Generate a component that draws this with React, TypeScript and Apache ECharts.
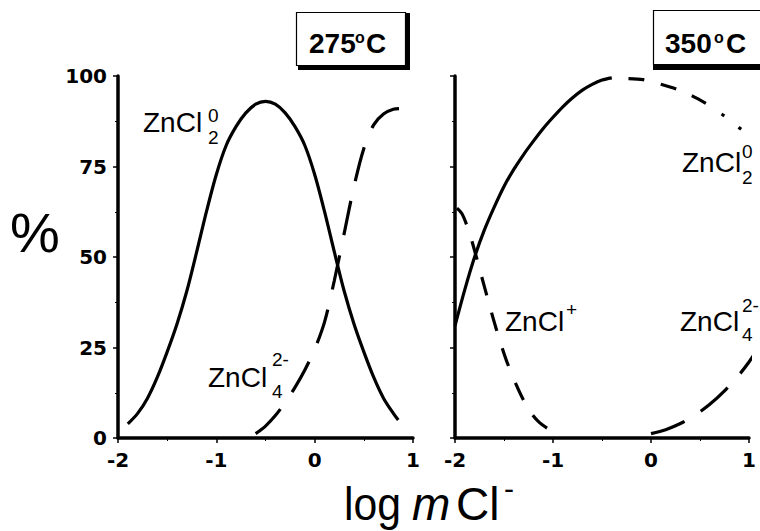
import React, { useEffect, useRef } from "react";
import * as echarts from "echarts";

// ---------- data (log mCl- vs % of Zn) ----------
const xTicks = [-2, -1, 0, 1];
const yTicks = [0, 25, 50, 75, 100];

// 275 °C panel
const t275_ZnCl2_x = [-1.9, -1.8, -1.7, -1.6, -1.5, -1.4, -1.3, -1.2, -1.1, -1.0, -0.9, -0.8, -0.7, -0.6, -0.5, -0.4, -0.3, -0.2, -0.1, 0.0, 0.1, 0.2, 0.3, 0.4, 0.5, 0.6, 0.7, 0.8, 0.85];
const t275_ZnCl2_y = [3.9, 6.8, 11.0, 16.8, 23.8, 31.5, 40.6, 51.4, 62.6, 72.8, 80.8, 86.0, 89.8, 92.2, 93, 92.2, 89.8, 86.0, 80.8, 72.8, 62.6, 51.4, 40.6, 31.5, 23.8, 16.8, 11.0, 6.8, 5.0];
const t275_ZnCl4_x = [-0.6, -0.5, -0.4, -0.3, -0.2, -0.1, 0.0, 0.1, 0.2, 0.3, 0.4, 0.5, 0.6, 0.7, 0.8, 0.88];
const t275_ZnCl4_y = [1.2, 3.3, 6.2, 9.8, 14, 18.8, 24.5, 32, 43.5, 56.5, 69.5, 80, 86.5, 89.5, 90.8, 91];

// 350 °C panel
const t350_ZnCl2_solid_x = [-2.0, -1.9, -1.8, -1.7, -1.6, -1.5, -1.4, -1.3, -1.2, -1.1, -1.0, -0.9, -0.8, -0.7, -0.6, -0.5, -0.4];
const t350_ZnCl2_solid_y = [31, 41, 50, 57.5, 63.8, 69.5, 74.2, 78.3, 82.0, 85.5, 88.6, 91.5, 94.0, 96.1, 97.7, 98.9, 99.5];
const t350_ZnCl2_dash_x = [-0.23, -0.08, 0.09, 0.27, 0.42, 0.57];
const t350_ZnCl2_dash_y = [99.3, 99.0, 97.8, 96.3, 94.5, 92.3];
const t350_ZnCl2_dot_x = [0.72, 0.81, 0.9, 0.95];
const t350_ZnCl2_dot_y = [89.5, 87.8, 85.7, 84.7];
const t350_ZnClp_x = [-1.98, -1.93, -1.88, -1.83, -1.78, -1.73, -1.68, -1.63, -1.58, -1.52, -1.46, -1.38, -1.3, -1.22, -1.14, -1.06];
const t350_ZnClp_y = [63.5, 62, 58.8, 54.6, 49.8, 44.8, 39.8, 34.9, 30.2, 25, 20.3, 15, 10.4, 6.8, 4.3, 2.7];
const t350_ZnCl4_x = [0.0, 0.15, 0.3, 0.45, 0.6, 0.75, 0.9, 1.0, 1.1];
const t350_ZnCl4_y = [1.2, 2.3, 4, 6.3, 9.3, 13, 17.5, 21, 25];

const panelTitles = ["275", "350"];

const pairs = (xs: number[], ys: number[]) => xs.map((x, i) => [x, ys[i]]);

const FONT = '"Liberation Sans", Arial, Helvetica, sans-serif';
const TICKFONT = '"DejaVu Sans", "Liberation Sans", sans-serif';

function txt(x: number, y: number, text: string, size: number, opts: any = {}) {
  return {
    type: "text",
    x,
    y,
    scaleX: opts.scaleX || 1,
    silent: true,
    z: 100,
    style: {
      text,
      font: `${opts.italic ? "italic " : ""}${opts.bold ? "bold " : ""}${size}px ${FONT}`,
      fill: "#000",
      textAlign: opts.align || "left",
      textVerticalAlign: "middle",
    },
  };
}

function xAxisCfg(gridIndex: number) {
  return {
    gridIndex,
    type: "value",
    min: xTicks[0],
    max: xTicks[xTicks.length - 1],
    interval: 1,
    axisLine: { show: true, onZero: false, lineStyle: { color: "#000", width: 3.5 } },
    axisTick: { show: true, length: 5, lineStyle: { color: "#000", width: 1.5 } },
    minorTick: { show: true, splitNumber: 2, length: 3, lineStyle: { color: "#000", width: 1 } },
    splitLine: { show: false },
    minorSplitLine: { show: false },
    axisLabel: {
      show: true,
      color: "#000",
      fontFamily: TICKFONT,
      fontWeight: "bold",
      fontSize: 20,
      margin: 12,
    },
  };
}

function yAxisCfg(gridIndex: number, showLabels: boolean) {
  return {
    gridIndex,
    type: "value",
    min: yTicks[0],
    max: yTicks[yTicks.length - 1],
    interval: 25,
    axisLine: { show: true, onZero: false, lineStyle: { color: "#000", width: 3.5 } },
    axisTick: { show: true, length: 5, lineStyle: { color: "#000", width: 1.5 } },
    minorTick: { show: true, splitNumber: 2, length: 3, lineStyle: { color: "#000", width: 1 } },
    splitLine: { show: false },
    minorSplitLine: { show: false },
    axisLabel: {
      show: showLabels,
      color: "#000",
      fontFamily: TICKFONT,
      fontWeight: "bold",
      fontSize: 20,
      margin: 11,
    },
  };
}

function lineSeries(idx: number, xs: number[], ys: number[], type: any, offset = 0) {
  return {
    type: "line",
    xAxisIndex: idx,
    yAxisIndex: idx,
    data: pairs(xs, ys),
    smooth: 0.3,
    showSymbol: false,
    symbol: "none",
    clip: false,
    silent: true,
    lineStyle: { color: "#000", width: 3.2, type, dashOffset: offset, cap: "butt" },
  };
}

export default function App() {
  const ref = useRef<HTMLDivElement>(null);
  useEffect(() => {
    if (!ref.current) return;
    const chart = echarts.init(ref.current, undefined, { renderer: "svg" });

    const graphic: any[] = [
      // title boxes
      { type: "rect", silent: true, shape: { x: 298, y: 64, width: 112, height: 6 }, style: { fill: "#000" } },
      { type: "rect", silent: true, shape: { x: 405, y: 13, width: 5, height: 57 }, style: { fill: "#000" } },
      { type: "rect", silent: true, shape: { x: 296.5, y: 12.5, width: 109, height: 53 }, style: { fill: "#fff", stroke: "#000", lineWidth: 1.2 } },
      { type: "rect", silent: true, shape: { x: 653, y: 64, width: 120, height: 6 }, style: { fill: "#000" } },
      { type: "rect", silent: true, shape: { x: 653.5, y: 10.5, width: 120, height: 54 }, style: { fill: "#fff", stroke: "#000", lineWidth: 1.2 } },
      txt(309, 43, panelTitles[0], 28, { bold: true }),
      txt(355, 37, "o", 16, { bold: true }),
      txt(366, 43, "C", 28, { bold: true }),
      txt(665, 43, panelTitles[1], 28, { bold: true }),
      txt(714, 37, "o", 16, { bold: true }),
      txt(726, 43, "C", 28, { bold: true }),
      // y title
      txt(35, 232, "%", 56, { align: "center" }),
      // x title
      txt(344, 504, "log", 46, { scaleX: 0.93 }),
      txt(412, 504, "m", 46, { italic: true }),
      txt(456, 504, "Cl", 46),
      txt(504, 488, "-", 30),
      // species labels, 275 °C
      txt(143, 122.5, "ZnCl", 28),
      txt(208, 115.5, "0", 19),
      txt(208, 137, "2", 19),
      txt(208, 377, "ZnCl", 28),
      txt(272, 359.5, "2-", 19),
      txt(272, 391, "4", 19),
      // species labels, 350 °C
      txt(682, 162, "ZnCl", 28),
      txt(742, 151.5, "0", 19),
      txt(742, 177.5, "2", 19),
      txt(505, 321, "ZnCl", 28),
      txt(566, 309.5, "+", 19),
      txt(680, 321, "ZnCl", 28),
      txt(742, 305.5, "2-", 19),
      txt(742, 334, "4", 19),
    ];

    chart.setOption({
      animation: false,
      backgroundColor: "#fff",
      grid: [
        { left: 118, top: 76, width: 295, height: 362, containLabel: false },
        { left: 455, top: 76, width: 294, height: 362, containLabel: false },
      ],
      xAxis: [xAxisCfg(0), xAxisCfg(1)],
      yAxis: [yAxisCfg(0, true), yAxisCfg(1, false)],
      series: [
        lineSeries(0, t275_ZnCl2_x, t275_ZnCl2_y, "solid"),
        lineSeries(0, t275_ZnCl4_x, t275_ZnCl4_y, [35, 20.5]),
        lineSeries(1, t350_ZnCl2_solid_x, t350_ZnCl2_solid_y, "solid"),
        lineSeries(1, t350_ZnCl2_dash_x, t350_ZnCl2_dash_y, [16, 17]),
        lineSeries(1, t350_ZnCl2_dot_x, t350_ZnCl2_dot_y, [3.5, 18]),
        lineSeries(1, t350_ZnClp_x, t350_ZnClp_y, [19, 18]),
        lineSeries(1, t350_ZnCl4_x, t350_ZnCl4_y, [36, 19]),
      ],
      graphic,
    });
    return () => chart.dispose();
  }, []);
  return (
    <div
      ref={ref}
      style={{ position: "absolute", left: 0, top: 0, width: 760, height: 531, background: "#fff" }}
    />
  );
}
